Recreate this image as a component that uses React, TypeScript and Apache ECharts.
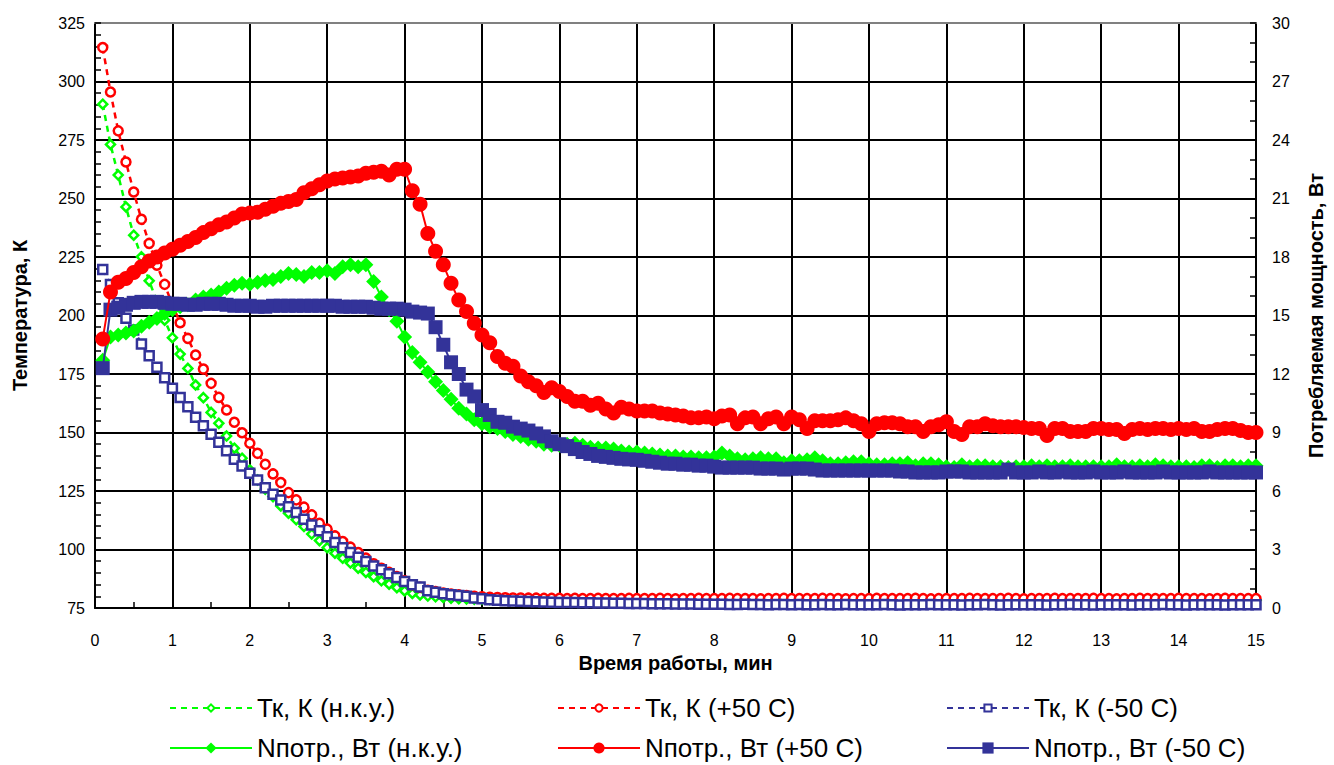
import React, { useEffect, useRef } from "react";
import * as echarts from "echarts";

// Time grid (min), sampled every 0.1 min
const TIME_MIN = Array.from({ length: 150 }, (_, i) => (i + 1) / 10);

// Temperature, K (left axis)
const T_NKU = [
  290.3, 273.1, 260.0, 246.4, 234.3, 225.1, 214.8, 206.0, 198.0, 190.5,
  183.5, 177.4, 170.3, 164.9, 158.6, 153.9, 148.5, 143.3, 139.0, 134.0,
  129.7, 125.8, 122.6, 118.6, 115.5, 112.7, 109.8, 106.6, 103.8, 100.8,
  98.4, 96.3, 94.2, 92.0, 90.2, 88.4, 86.6, 85.2, 83.7, 82.3,
  81.2, 80.6, 80.1, 79.8, 79.5, 79.2, 79.0, 78.9, 78.8, 78.7,
  78.6, 78.6, 78.5, 78.5, 78.5, 78.4, 78.4, 78.4, 78.4, 78.3,
  78.4, 78.3, 78.4, 78.3, 78.3, 78.4, 78.3, 78.3, 78.4, 78.3,
  78.3, 78.4, 78.3, 78.3, 78.2, 78.3, 78.4, 78.3, 78.3, 78.3,
  78.4, 78.3, 78.3, 78.2, 78.3, 78.3, 78.4, 78.3, 78.3, 78.2,
  78.3, 78.3, 78.4, 78.3, 78.3, 78.3, 78.2, 78.3, 78.3, 78.4,
  78.3, 78.3, 78.2, 78.3, 78.3, 78.4, 78.3, 78.3, 78.3, 78.2,
  78.3, 78.4, 78.3, 78.3, 78.2, 78.3, 78.3, 78.3, 78.4, 78.3,
  78.3, 78.2, 78.3, 78.3, 78.4, 78.3, 78.3, 78.3, 78.2, 78.3,
  78.3, 78.3, 78.4, 78.3, 78.2, 78.3, 78.3, 78.3, 78.3, 78.4,
  78.3, 78.3, 78.2, 78.3, 78.3, 78.3, 78.4, 78.3, 78.3, 78.3,
];

const T_P50 = [
  314.5, 295.5, 278.9, 265.6, 252.8, 241.1, 230.8, 221.5, 213.3, 204.5,
  196.9, 190.2, 183.1, 177.1, 171.0, 165.0, 159.6, 154.4, 149.9, 145.4,
  141.1, 136.4, 132.3, 128.6, 124.3, 121.2, 118.1, 114.8, 111.2, 108.7,
  105.8, 103.4, 101.0, 98.7, 96.3, 93.9, 92.0, 90.2, 88.4, 86.6,
  84.9, 83.8, 82.6, 82.0, 81.4, 81.0, 80.6, 80.3, 80.0, 79.8,
  79.6, 79.5, 79.4, 79.3, 79.3, 79.2, 79.2, 79.1, 79.1, 79.1,
  79.0, 79.1, 79.0, 79.0, 79.1, 79.0, 79.0, 79.0, 79.1, 79.0,
  79.0, 79.0, 79.1, 79.0, 78.9, 79.0, 79.0, 79.1, 79.0, 79.0,
  79.0, 79.1, 79.0, 79.0, 79.0, 78.9, 79.0, 79.0, 79.1, 79.0,
  79.0, 79.0, 79.0, 79.1, 79.0, 79.0, 78.9, 79.0, 79.0, 79.0,
  79.1, 79.0, 79.0, 79.0, 79.0, 79.1, 79.0, 78.9, 79.0, 79.0,
  79.0, 79.0, 79.1, 79.0, 79.0, 79.0, 79.0, 79.1, 79.0, 78.9,
  79.0, 79.0, 79.0, 79.1, 79.0, 79.0, 79.0, 79.0, 79.1, 79.0,
  79.0, 78.9, 79.0, 79.0, 79.1, 79.0, 79.0, 79.0, 79.0, 79.1,
  79.0, 79.0, 79.0, 78.9, 79.0, 79.1, 79.0, 79.0, 79.0, 79.0,
];

const T_M50 = [
  219.7, 213.3, 205.5, 198.8, 193.8, 187.8, 182.8, 177.9, 173.4, 168.9,
  165.0, 161.0, 156.5, 152.9, 149.2, 145.8, 142.2, 138.6, 135.7, 132.6,
  129.7, 126.4, 123.6, 121.2, 118.3, 115.8, 112.9, 110.5, 108.0, 105.5,
  103.0, 100.8, 98.7, 96.7, 94.9, 93.0, 91.3, 89.6, 88.0, 86.3,
  84.9, 84.0, 82.4, 81.7, 81.1, 80.7, 80.3, 80.0, 79.3, 79.0,
  78.5, 78.3, 78.1, 78.0, 77.9, 77.8, 77.7, 77.6, 77.5, 77.4,
  77.3, 77.3, 77.2, 77.2, 77.1, 77.1, 77.0, 77.0, 76.9, 76.9,
  76.9, 76.8, 76.8, 76.8, 76.7, 76.7, 76.7, 76.6, 76.6, 76.6,
  76.6, 76.5, 76.5, 76.6, 76.5, 76.5, 76.4, 76.5, 76.5, 76.4,
  76.5, 76.4, 76.4, 76.5, 76.4, 76.4, 76.5, 76.4, 76.4, 76.4,
  76.4, 76.5, 76.4, 76.3, 76.4, 76.4, 76.4, 76.5, 76.4, 76.4,
  76.4, 76.3, 76.4, 76.4, 76.5, 76.4, 76.3, 76.4, 76.4, 76.4,
  76.4, 76.4, 76.3, 76.4, 76.4, 76.5, 76.4, 76.4, 76.3, 76.4,
  76.4, 76.4, 76.4, 76.3, 76.4, 76.4, 76.4, 76.5, 76.4, 76.4,
  76.3, 76.4, 76.4, 76.4, 76.4, 76.3, 76.4, 76.4, 76.4, 76.4,
];

// Consumed power, W (right axis)
const N_NKU = [
  12.7, 13.9, 14.0, 14.1, 14.2, 14.45, 14.65, 14.85, 15.1, 15.3,
  15.45, 15.55, 15.8, 15.95, 16.05, 16.2, 16.4, 16.55, 16.65, 16.6,
  16.7, 16.8, 16.85, 17.0, 17.15, 17.1, 17.0, 17.2, 17.2, 17.3,
  17.15, 17.5, 17.6, 17.5, 17.6, 16.75, 15.95, 15.3, 14.7, 13.9,
  13.1, 12.6, 12.1, 11.6, 11.15, 10.7, 10.25, 9.95, 9.65, 9.45,
  9.3, 9.2, 9.05, 8.9, 8.8, 8.65, 8.55, 8.4, 8.35, 8.35,
  8.4, 8.45, 8.35, 8.25, 8.2, 8.2, 8.15, 8.05, 8.0, 8.0,
  7.95, 7.9, 7.85, 7.8, 7.8, 7.75, 7.75, 7.7, 7.7, 7.75,
  7.95, 7.8, 7.65, 7.6, 7.65, 7.7, 7.65, 7.65, 7.45, 7.55,
  7.55, 7.6, 7.7, 7.55, 7.4, 7.4, 7.45, 7.5, 7.5, 7.4,
  7.35, 7.35, 7.4, 7.4, 7.45, 7.3, 7.4, 7.4, 7.35, 7.25,
  7.2, 7.35, 7.25, 7.3, 7.3, 7.25, 7.25, 7.2, 7.25, 7.25,
  7.3, 7.25, 7.3, 7.25, 7.25, 7.3, 7.25, 7.25, 7.25, 7.25,
  7.25, 7.35, 7.25, 7.25, 7.3, 7.25, 7.35, 7.3, 7.25, 7.25,
  7.25, 7.2, 7.3, 7.3, 7.2, 7.3, 7.3, 7.25, 7.3, 7.3,
];

const N_P50 = [
  13.8, 16.2, 16.7, 16.9, 17.2, 17.5, 17.8, 18.0, 18.2, 18.4,
  18.6, 18.8, 19.0, 19.25, 19.45, 19.65, 19.8, 20.0, 20.2, 20.25,
  20.3, 20.45, 20.6, 20.75, 20.85, 20.95, 21.3, 21.5, 21.7, 21.9,
  22.0, 22.05, 22.1, 22.15, 22.3, 22.35, 22.4, 22.2, 22.5, 22.5,
  21.4, 20.7, 19.2, 18.3, 17.6, 16.65, 15.8, 15.2, 14.6, 14.0,
  13.6, 12.9, 12.55, 12.4, 11.9, 11.6, 11.4, 11.05, 11.3, 11.1,
  10.85, 10.6, 10.6, 10.4, 10.5, 10.2, 10.0, 10.3, 10.2, 10.1,
  10.1, 10.1, 10.0, 9.95, 9.9, 9.85, 9.75, 9.75, 9.8, 9.7,
  9.85, 9.9, 9.45, 9.75, 9.8, 9.45, 9.7, 9.8, 9.45, 9.8,
  9.65, 9.2, 9.6, 9.6, 9.6, 9.65, 9.75, 9.6, 9.45, 9.05,
  9.45, 9.5, 9.5, 9.45, 9.3, 9.3, 9.05, 9.3, 9.4, 9.55,
  9.05, 8.9, 9.3, 9.3, 9.45, 9.35, 9.3, 9.3, 9.3, 9.25,
  9.2, 9.2, 8.85, 9.2, 9.2, 9.05, 9.05, 9.05, 9.2, 9.2,
  9.15, 9.15, 8.95, 9.15, 9.2, 9.15, 9.2, 9.2, 9.15, 9.2,
  9.15, 9.2, 9.05, 9.05, 9.15, 9.2, 9.2, 9.1, 9.0, 9.0,
];

const N_M50 = [
  12.3, 15.3, 15.4, 15.55, 15.65, 15.7, 15.7, 15.7, 15.65, 15.6,
  15.6, 15.55, 15.55, 15.6, 15.6, 15.6, 15.55, 15.5, 15.5, 15.5,
  15.45, 15.45, 15.5, 15.5, 15.5, 15.5, 15.5, 15.5, 15.5, 15.5,
  15.5, 15.45, 15.45, 15.45, 15.45, 15.4, 15.35, 15.35, 15.35, 15.3,
  15.2, 15.15, 15.1, 14.4, 13.5, 12.6, 12.0, 11.2, 10.85, 10.15,
  9.9, 9.55, 9.5, 9.3, 9.2, 9.1, 8.95, 8.8, 8.55, 8.4,
  8.3, 8.15, 8.0, 7.9, 7.8, 7.75, 7.7, 7.65, 7.62, 7.6,
  7.55, 7.5, 7.45, 7.4, 7.4, 7.35, 7.35, 7.3, 7.3, 7.25,
  7.2, 7.2, 7.2, 7.2, 7.2, 7.15, 7.15, 7.15, 7.1, 7.15,
  7.15, 7.15, 7.1, 7.05, 7.05, 7.05, 7.05, 7.05, 7.05, 7.05,
  7.05, 7.05, 7.05, 7.0, 7.0, 6.95, 6.95, 6.95, 6.95, 7.0,
  7.0, 7.0, 6.95, 6.95, 6.95, 6.95, 6.95, 7.1, 6.95, 6.95,
  6.95, 7.0, 6.95, 6.95, 7.0, 6.95, 6.95, 6.95, 7.0, 6.95,
  6.95, 6.95, 7.0, 6.95, 6.95, 6.95, 6.95, 7.0, 6.95, 6.95,
  6.95, 6.95, 6.95, 7.0, 6.95, 6.95, 6.95, 6.95, 6.95, 6.95,
];

const NAMES = [
  "Тк, К (н.к.у.)",
  "Тк, К (+50 С)",
  "Тк, К (-50 С)",
  "Nпотр., Вт (н.к.у.)",
  "Nпотр., Вт (+50 С)",
  "Nпотр., Вт (-50 С)",
];

const GREEN = "#00FF00";
const RED = "#FF0000";
const BLUE = "#333399";
const FONT = "'Liberation Sans', Arial, sans-serif";

export default function App() {
  const ref = useRef<HTMLDivElement>(null);

  useEffect(() => {
    document.body.style.margin = "0";
    if (!ref.current) return;
    const chart = echarts.init(ref.current, null, { renderer: "svg" });

    const pts = (vals: number[]) => TIME_MIN.map((t, i) => [t, vals[i]]);

    const tempSeries = (name: string, vals: number[], color: string, symbol: string) => ({
      name,
      type: "line",
      xAxisIndex: 0,
      yAxisIndex: 0,
      data: pts(vals),
      symbol,
      symbolSize: 9,
      showAllSymbol: true,
      lineStyle: { color, width: 2.5, type: [6, 5] },
      itemStyle: { color: "#FFFFFF", borderColor: color, borderWidth: 2.5 },
      emphasis: { disabled: true },
      z: 3,
    });

    const powerSeries = (name: string, vals: number[], color: string, symbol: string, size: number, z: number) => ({
      name,
      type: "line",
      xAxisIndex: 0,
      yAxisIndex: 1,
      data: pts(vals),
      symbol,
      symbolSize: size,
      showAllSymbol: true,
      lineStyle: { color, width: 2, type: "solid" },
      itemStyle: { color, borderWidth: 0 },
      emphasis: { disabled: true },
      z,
    });

    const legendItem = (name: string, left: number, top: number, iconH: number) => ({
      data: [name],
      left,
      top,
      padding: 0,
      itemWidth: 82,
      itemHeight: iconH,
      itemGap: 0,
      selectedMode: false,
      textStyle: { fontSize: 26, color: "#000", fontFamily: FONT },
    });

    const tickLine = { color: "#000", width: 1.5 };
    const titleStyle = { fontFamily: FONT, fontWeight: "bold", fontSize: 20, color: "#000" };

    const option = {
      animation: false,
      backgroundColor: "#FFFFFF",
      grid: { left: 95, right: 74, top: 23, bottom: 157, containLabel: false },
      legend: [
        legendItem(NAMES[0], 169, 695, 9),
        legendItem(NAMES[1], 557, 695, 9),
        legendItem(NAMES[2], 946, 695, 9),
        legendItem(NAMES[3], 169, 735, 14),
        legendItem(NAMES[4], 557, 735, 14),
        legendItem(NAMES[5], 946, 735, 14),
      ],
      xAxis: [
        {
          type: "value",
          min: 0,
          max: 15,
          interval: 1,
          position: "bottom",
          name: "Время работы, мин",
          nameLocation: "middle",
          nameGap: 45,
          nameTextStyle: titleStyle,
          axisLine: { show: true, onZero: false, lineStyle: { color: "#000", width: 2 } },
          axisTick: { show: true, inside: true, length: 6, lineStyle: tickLine },
          minorTick: { show: true, splitNumber: 2, length: 6, lineStyle: tickLine },
          axisLabel: { fontFamily: FONT, fontSize: 16, color: "#000", margin: 24 },
          splitLine: { show: true, lineStyle: { color: "#000", width: 2 } },
        },
        {
          type: "value",
          min: 0,
          max: 15,
          position: "top",
          axisLine: { show: true, onZero: false, lineStyle: { color: "#808080", width: 2 } },
          axisTick: { show: false },
          axisLabel: { show: false },
          splitLine: { show: false },
        },
      ],
      yAxis: [
        {
          type: "value",
          min: 75,
          max: 325,
          interval: 25,
          position: "left",
          name: "Температура, К",
          nameLocation: "middle",
          nameRotate: 90,
          nameGap: 65,
          nameTextStyle: titleStyle,
          axisLine: { show: true, onZero: false, lineStyle: { color: "#000", width: 2 } },
          axisTick: { show: true, inside: true, length: 6, lineStyle: tickLine },
          minorTick: { show: true, splitNumber: 5, length: 6, lineStyle: tickLine },
          axisLabel: { fontFamily: FONT, fontSize: 16, color: "#000", margin: 10 },
          splitLine: { show: true, showMaxLine: false, lineStyle: { color: "#000", width: 2 } },
        },
        {
          type: "value",
          min: 0,
          max: 30,
          interval: 3,
          position: "right",
          name: "Потребляемая мощность, Вт",
          nameLocation: "middle",
          nameRotate: 90,
          nameGap: 50,
          nameTextStyle: titleStyle,
          axisLine: { show: true, onZero: false, lineStyle: { color: "#000", width: 2 } },
          axisTick: { show: true, inside: true, length: 6, lineStyle: tickLine },
          minorTick: { show: true, splitNumber: 3, length: 6, lineStyle: tickLine },
          axisLabel: { fontFamily: FONT, fontSize: 16, color: "#000", margin: 16 },
          splitLine: { show: false },
        },
      ],
      series: [
        tempSeries(NAMES[0], T_NKU, GREEN, "diamond"),
        tempSeries(NAMES[1], T_P50, RED, "circle"),
        tempSeries(NAMES[2], T_M50, BLUE, "rect"),
        powerSeries(NAMES[3], N_NKU, GREEN, "diamond", 15, 4),
        powerSeries(NAMES[5], N_M50, BLUE, "rect", 14, 5),
        powerSeries(NAMES[4], N_P50, RED, "circle", 15, 6),
      ],
    };

    chart.setOption(option as any);
    return () => chart.dispose();
  }, []);

  return <div ref={ref} style={{ width: 1334, height: 765 }} />;
}
